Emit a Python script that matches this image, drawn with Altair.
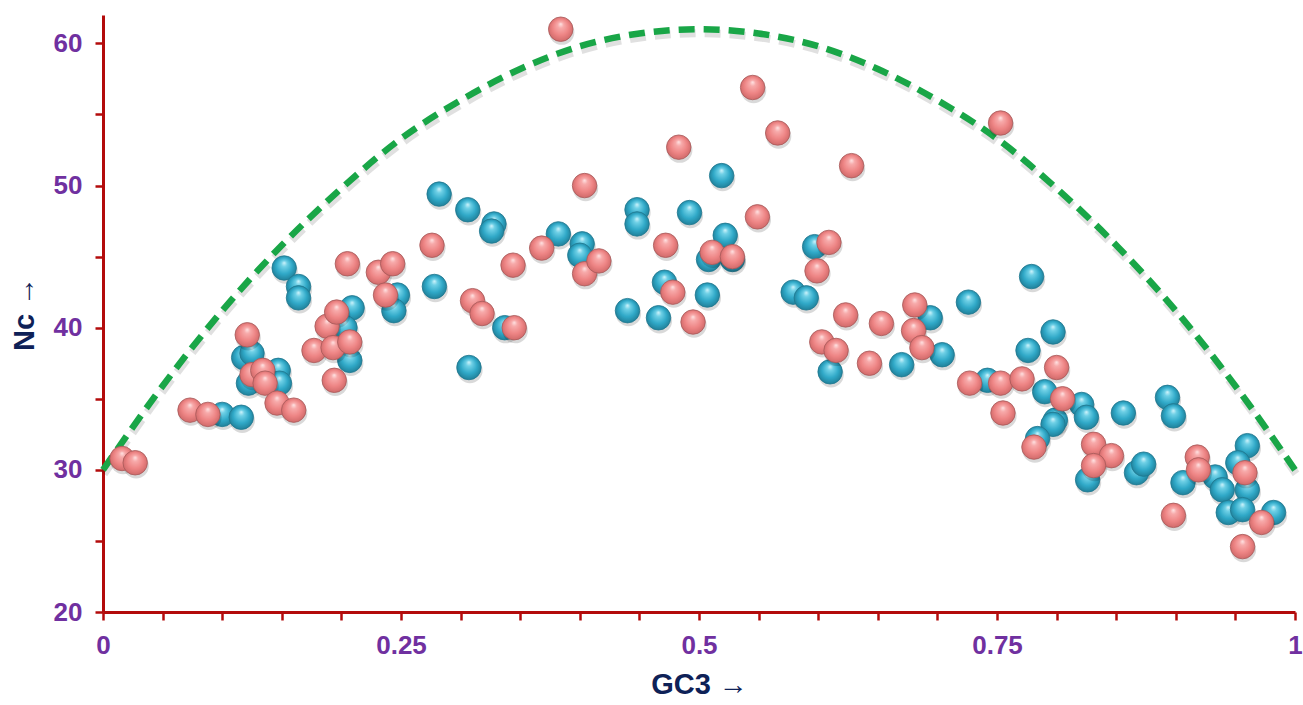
import altair as alt
import pandas as pd

# ---- data ----
pink_gc3 = [0.016, 0.027, 0.073, 0.088, 0.121, 0.125, 0.134, 0.136, 0.146, 0.160,
            0.177, 0.188, 0.196, 0.193, 0.207, 0.194, 0.205, 0.231, 0.243, 0.237,
            0.276, 0.310, 0.318, 0.345, 0.344, 0.368, 0.384, 0.404, 0.404, 0.416,
            0.472, 0.478, 0.483, 0.495, 0.511, 0.528, 0.545, 0.566, 0.549, 0.609,
            0.599, 0.628, 0.623, 0.603, 0.615, 0.643, 0.653, 0.681, 0.680, 0.687,
            0.727, 0.753, 0.771, 0.753, 0.755, 0.800, 0.805, 0.781, 0.831, 0.846,
            0.831, 0.898, 0.918, 0.919, 0.958, 0.972, 0.956]
pink_nc = [30.8, 30.5, 34.2, 33.9, 39.5, 36.7, 37.0, 36.1, 34.7, 34.2,
           38.4, 40.1, 41.1, 38.6, 39.0, 36.3, 44.5, 43.9, 44.5, 42.3,
           45.8, 41.9, 41.0, 40.0, 44.4, 45.6, 61.0, 50.0, 43.8, 44.7,
           45.8, 42.5, 52.7, 40.4, 45.3, 45.0, 56.9, 53.7, 47.8, 46.0,
           44.0, 51.4, 40.9, 39.0, 38.4, 37.5, 40.3, 41.6, 39.8, 38.6,
           36.1, 36.1, 36.4, 54.4, 34.0, 37.2, 35.0, 31.6, 31.8, 31.0,
           30.3, 26.8, 30.9, 30.0, 29.8, 26.3, 24.6]

blue_gc3 = [0.100, 0.116, 0.118, 0.125, 0.147, 0.148, 0.122, 0.152, 0.164, 0.164,
            0.209, 0.203, 0.207, 0.247, 0.244, 0.278, 0.282, 0.306, 0.328, 0.326,
            0.307, 0.337, 0.382, 0.402, 0.400, 0.440, 0.448, 0.448, 0.466, 0.471,
            0.492, 0.507, 0.508, 0.519, 0.522, 0.528, 0.597, 0.579, 0.590, 0.610,
            0.670, 0.694, 0.704, 0.726, 0.742, 0.779, 0.776, 0.797, 0.790, 0.821,
            0.825, 0.799, 0.797, 0.784, 0.856, 0.893, 0.898, 0.826, 0.867, 0.873,
            0.906, 0.933, 0.939, 0.960, 0.952, 0.960, 0.944, 0.956, 0.982]
blue_nc = [33.9, 33.7, 37.9, 38.2, 37.0, 36.1, 36.1, 44.2, 42.9, 42.1,
           41.4, 40.0, 37.7, 42.3, 41.2, 42.9, 49.4, 48.3, 47.3, 46.8,
           37.2, 40.0, 46.6, 45.9, 45.1, 41.2, 48.3, 47.3, 40.7, 43.2,
           48.1, 42.3, 44.8, 50.7, 46.5, 44.8, 45.7, 42.5, 42.1, 36.9,
           37.4, 40.7, 38.1, 41.8, 36.3, 43.6, 38.4, 39.7, 35.5, 34.6,
           33.7, 33.5, 33.2, 32.2, 34.0, 35.1, 33.8, 29.3, 29.8, 30.4,
           29.1, 29.5, 28.6, 31.7, 30.5, 28.6, 27.0, 27.2, 27.0]

curve_gc3 = [0.0, 0.05, 0.1, 0.15, 0.2, 0.25, 0.3, 0.35, 0.4, 0.45, 0.5,
             0.55, 0.6, 0.65, 0.7, 0.75, 0.8, 0.85, 0.9, 0.95, 1.0]
curve_nc = [30.0, 35.9, 41.2, 45.8, 49.8, 53.3, 56.0, 58.2, 59.8, 60.7, 61.0,
            60.7, 59.8, 58.2, 56.0, 53.3, 49.8, 45.8, 41.2, 35.9, 30.0]

x_ticks = [0, 0.05, 0.1, 0.15, 0.2, 0.25, 0.3, 0.35, 0.4, 0.45, 0.5,
           0.55, 0.6, 0.65, 0.7, 0.75, 0.8, 0.85, 0.9, 0.95, 1]
y_ticks = [20, 25, 30, 35, 40, 45, 50, 55, 60]

pink_df = pd.DataFrame({"gc3": pink_gc3, "nc": pink_nc})
blue_df = pd.DataFrame({"gc3": blue_gc3, "nc": blue_nc})
curve_df = pd.DataFrame({"gc3": curve_gc3, "nc": curve_nc})

AXIS_RED = "#b30b0b"
LABEL_PURPLE = "#7030a0"
TITLE_NAVY = "#0e2157"
FONT = "Liberation Sans"

x_enc = alt.X(
    "gc3:Q",
    scale=alt.Scale(domain=[0, 1], nice=False, zero=False),
    axis=alt.Axis(
        values=x_ticks,
        labelExpr="indexof([0, 0.25, 0.5, 0.75, 1], datum.value) >= 0 ? toString(datum.value) : ''",
        title="GC3 \u2192",
        grid=False,
        domainColor=AXIS_RED, domainWidth=3,
        tickColor=AXIS_RED, tickWidth=2.5, tickSize=8,
        labelColor=LABEL_PURPLE, labelFont=FONT, labelFontWeight="bold",
        labelFontSize=26, labelPadding=12, labelFlush=False, labelOverlap=False,
        titleColor=TITLE_NAVY, titleFont=FONT, titleFontWeight="bold",
        titleFontSize=29, titlePadding=12,
    ),
)
y_enc = alt.Y(
    "nc:Q",
    scale=alt.Scale(domain=[20, 62], nice=False, zero=False),
    axis=alt.Axis(
        values=y_ticks,
        labelExpr="datum.value % 10 == 0 ? toString(datum.value) : ''",
        title="Nc \u2192",
        grid=False,
        domainColor=AXIS_RED, domainWidth=3,
        tickColor=AXIS_RED, tickWidth=2.5, tickSize=8,
        labelColor=LABEL_PURPLE, labelFont=FONT, labelFontWeight="bold",
        labelFontSize=26, labelPadding=13, labelFlush=False, labelOverlap=False,
        titleColor=TITLE_NAVY, titleFont=FONT, titleFontWeight="bold",
        titleFontSize=29, titlePadding=14,
    ),
)


def sphere(stops):
    return {
        "gradient": "radial",
        "x1": 0.5, "y1": 0.28, "r1": 0.0,
        "x2": 0.5, "y2": 0.5, "r2": 0.55,
        "stops": [{"offset": o, "color": c} for o, c in stops],
    }


blue_fill = sphere([(0.0, "#d4f5fc"), (0.22, "#6fd0e6"), (0.6, "#30a9c8"), (0.9, "#22859f"), (1.0, "#1a6f85")])
pink_fill = sphere([(0.0, "#ffe6e6"), (0.22, "#f7aaaa"), (0.6, "#ee8585"), (0.9, "#d46d6d"), (1.0, "#b25858")])

SIZE = 600

curve_shadow = alt.Chart(curve_df).mark_line(
    color="#000000", opacity=0.12, strokeWidth=8, strokeDash=[16, 9],
    interpolate="monotone", yOffset=4, xOffset=1,
).encode(x=x_enc, y=y_enc)

curve = alt.Chart(curve_df).mark_line(
    color="#19a647", strokeWidth=6.5, strokeDash=[16, 9], interpolate="monotone",
).encode(x=x_enc, y=y_enc)

blue_shadow = alt.Chart(blue_df).mark_circle(
    color="#000000", opacity=0.15, size=SIZE + 40, yOffset=3, xOffset=1,
).encode(x=x_enc, y=y_enc)
pink_shadow = alt.Chart(pink_df).mark_circle(
    color="#000000", opacity=0.15, size=SIZE + 40, yOffset=3, xOffset=1,
).encode(x=x_enc, y=y_enc)

blue_pts = alt.Chart(blue_df).mark_point(
    shape="circle", filled=True, fill=blue_fill, fillOpacity=1,
    stroke="#1f7890", strokeWidth=1, strokeOpacity=0.8, size=SIZE,
).encode(x=x_enc, y=y_enc)
pink_pts = alt.Chart(pink_df).mark_point(
    shape="circle", filled=True, fill=pink_fill, fillOpacity=1,
    stroke="#a85a5a", strokeWidth=1, strokeOpacity=0.8, size=SIZE,
).encode(x=x_enc, y=y_enc)

chart = alt.layer(
    curve_shadow, curve, blue_shadow, blue_pts, pink_shadow, pink_pts
).properties(
    width=1192, height=597,
    autosize=alt.AutoSizeParams(type="none"),
    padding={"left": 103, "top": 15, "right": 8, "bottom": 93},
    background="white",
).configure_view(stroke=None)

chart.save("out.html", embed_options={"renderer": "svg", "actions": False})
